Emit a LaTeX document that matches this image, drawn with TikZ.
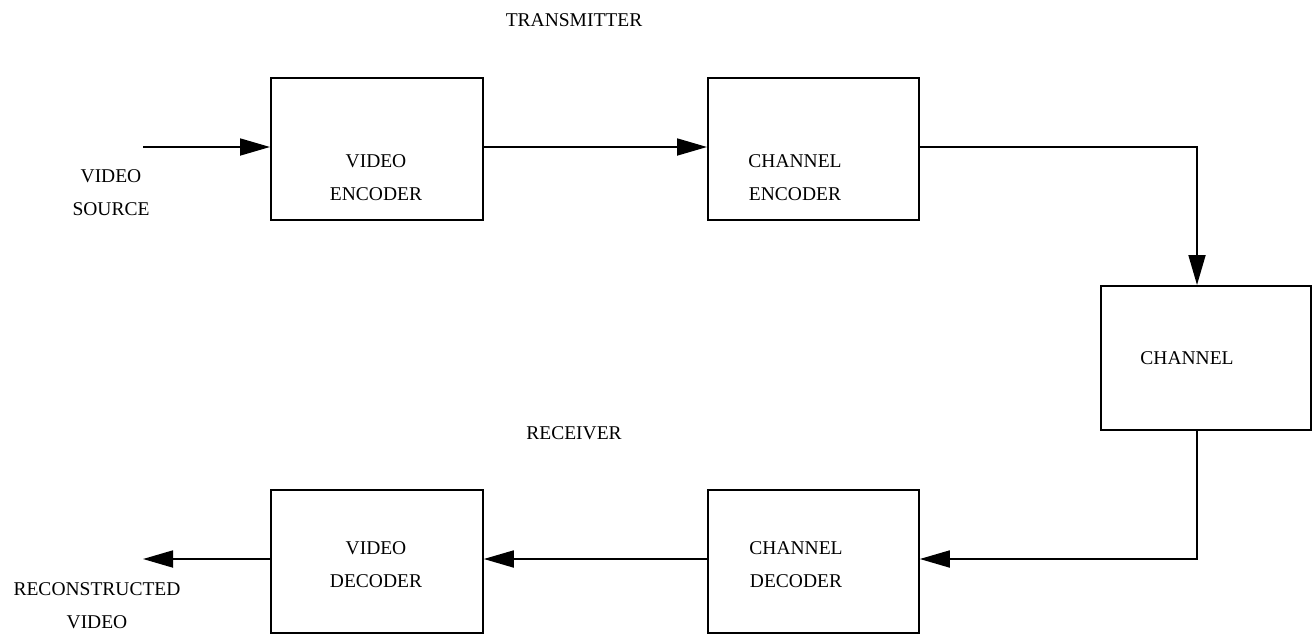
\documentclass[tikz,border=0pt]{standalone}
\usepackage{fontspec}
\setmainfont{Liberation Serif}
\usetikzlibrary{arrows.meta}
\begin{document}
\begin{tikzpicture}[x=1pt,y=-1pt,
  blockbox/.style={draw,line width=1.8pt,inner sep=0pt,anchor=north west},
  lbl/.style={inner sep=0pt,font=\fontsize{19.5}{33}\selectfont,align=center},
  flow/.style={line width=1.8pt,-{Triangle[length=30pt,width=17pt]}}]
\useasboundingbox (0,0) rectangle (1314,637);
% blocks
\node[blockbox,minimum width=212pt,minimum height=142pt] (venc) at (270,77) {};
\node[blockbox,minimum width=211pt,minimum height=142pt] (cenc) at (707,77) {};
\node[blockbox,minimum width=210pt,minimum height=144pt] (chan) at (1100,285) {};
\node[blockbox,minimum width=211pt,minimum height=143pt] (cdec) at (707,489) {};
\node[blockbox,minimum width=212pt,minimum height=143pt] (vdec) at (270,489) {};
% block texts
\node[lbl] (tvenc) at (376,178) {VIDEO\\ENCODER};
\node[lbl] (tcenc) at (795,178) {CHANNEL\\ENCODER};
\node[lbl] (tchan) at (1187,358) {CHANNEL};
\node[lbl] (tcdec) at (796,565) {CHANNEL\\DECODER};
\node[lbl] (tvdec) at (376,565) {VIDEO\\DECODER};
% free labels
\node[lbl] (tx) at (574,20) {TRANSMITTER};
\node[lbl] (rx) at (574,433) {RECEIVER};
\node[lbl] (src) at (111,193) {VIDEO\\SOURCE};
\node[lbl] (rec) at (97,606) {RECONSTRUCTED\\VIDEO};
% connectors
\coordinate (in) at (143,147);
\coordinate (out) at (143,559);
\coordinate (drop) at (1197,0);
\draw[flow] (in) -- (in -| venc.west);
\draw[flow] (venc.east |- in) -- (cenc.west |- in);
\draw[flow] (cenc.east |- in) -| (drop |- chan.north);
\draw[flow] (drop |- chan.south) |- (cdec.east |- out);
\draw[flow] (cdec.west |- out) -- (vdec.east |- out);
\draw[flow] (vdec.west |- out) -- (out);
\end{tikzpicture}
\end{document}
